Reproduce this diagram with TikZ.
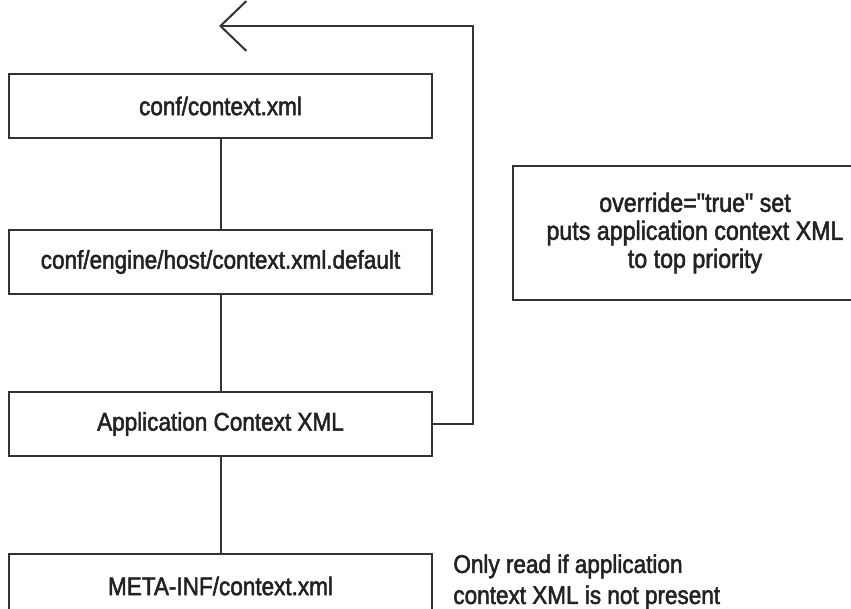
\documentclass[tikz,border=0pt]{standalone}
\usepackage{fontspec}
\newfontfamily\ctxfont[FakeStretch=0.88,FakeBold=2]{Liberation Sans}
\usepackage{tikz}
\usetikzlibrary{arrows.meta,positioning,calc}
\definecolor{ctxline}{HTML}{333333}
\definecolor{ctxtext}{HTML}{222222}
\tikzset{
  ctxbox/.style={draw=ctxline,line width=1pt,minimum width=211.5pt,minimum height=32pt,inner sep=0pt,font=\ctxfont\fontsize{12.8}{15}\selectfont,text=ctxtext},
  notebox/.style={draw=ctxline,line width=1pt,minimum width=182pt,minimum height=67pt,align=center,font=\ctxfont\fontsize{13.2}{14}\selectfont,text=ctxtext},
  notetext/.style={inner sep=0pt,align=left,font=\ctxfont\fontsize{12.8}{15.5}\selectfont,text=ctxtext},
  link/.style={draw=ctxline,line width=1pt},
  back/.style={link,-{Straight Barb[length=13pt,width=25pt,line width=1pt]}},
}
\begin{document}
\begin{tikzpicture}
  \useasboundingbox (0,0) rectangle (425.5pt,-304.5pt);
  \node[ctxbox] (conf) at (110.25pt,-53pt) {conf/context.xml};
  \node[ctxbox,below=45pt of conf] (host) {conf/engine/host/context.xml.default};
  \node[ctxbox,below=48pt of host] (app) {Application Context XML};
  \node[ctxbox,below=48pt of app] (meta) {META-INF/context.xml};
  \node[notebox] (override) at (347.5pt,-116.5pt) {override="true" set\\puts application context XML\\to top priority};
  \node[notetext,anchor=north west] (onlyread) at ($(meta.north east)+(10pt,-0.5pt)$) {Only read if application\\context XML is not present};
  \coordinate (turn) at (236.5pt,-13pt);
  \coordinate (tip) at (109.5pt,-13pt);
  \draw[link] (conf) -- (host);
  \draw[link] (host) -- (app);
  \draw[link] (app) -- (meta);
  \draw[back] (app.east) -| (turn) -- (tip);
\end{tikzpicture}
\end{document}
